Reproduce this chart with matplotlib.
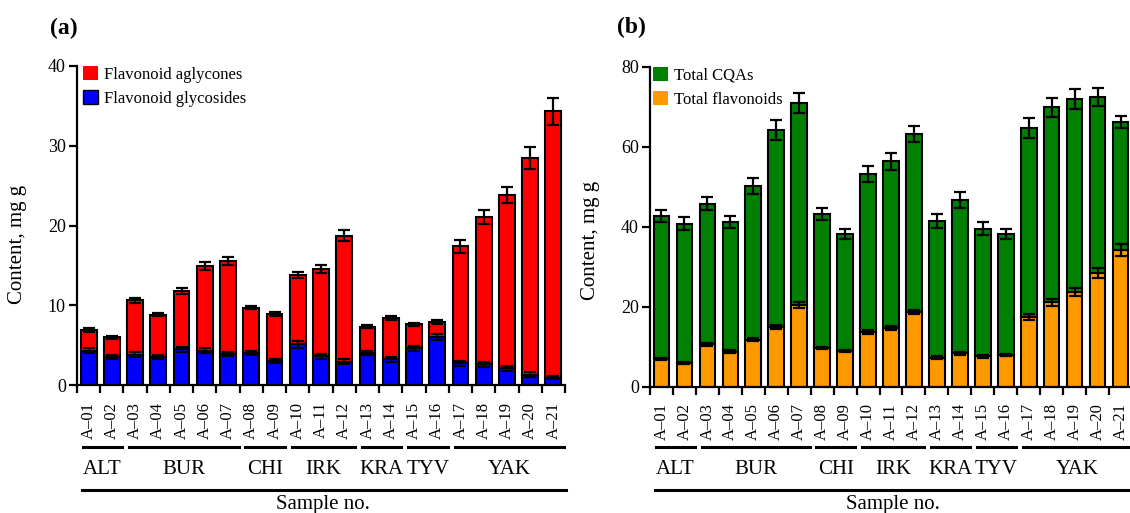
import numpy as np
import matplotlib
matplotlib.use("Agg")
import matplotlib.pyplot as plt
from matplotlib.patches import Patch
from matplotlib.transforms import blended_transform_factory

plt.rcParams['font.family'] = ['Liberation Serif', 'DejaVu Serif']

samples = ['A–%02d' % i for i in range(1, 22)]
groups = ['ALT', 'BUR', 'CHI', 'IRK', 'KRA', 'TYV', 'YAK']
group_start = [0, 2, 7, 9, 12, 14, 16]
group_end = [1, 6, 8, 11, 13, 15, 20]

# (a) flavonoids
glycosides = [4.3, 3.5, 3.8, 3.5, 4.5, 4.3, 3.9, 4.0, 3.0, 5.1, 3.6,
              2.9, 4.0, 3.2, 4.6, 6.0, 2.7, 2.6, 2.1, 1.3, 0.9]
glycosides_err = [0.3, 0.2, 0.3, 0.2, 0.3, 0.3, 0.3, 0.3, 0.2, 0.4, 0.3,
                  0.3, 0.3, 0.3, 0.3, 0.4, 0.3, 0.3, 0.3, 0.3, 0.2]
aglycones = [2.6, 2.5, 6.8, 5.3, 7.3, 10.6, 11.7, 5.7, 5.9, 8.7, 11.0,
             15.8, 3.3, 5.2, 3.0, 1.9, 14.7, 18.5, 21.7, 27.2, 33.4]
flav_total_err = [0.2, 0.2, 0.3, 0.2, 0.4, 0.5, 0.5, 0.2, 0.2, 0.4, 0.5,
                  0.7, 0.2, 0.3, 0.2, 0.2, 0.8, 0.9, 1.0, 1.4, 1.7]

# (b) flavonoids and CQAs
flavonoids = [6.9, 6.0, 10.6, 8.8, 11.8, 14.9, 20.5, 9.7, 8.9, 13.8, 14.6,
              18.7, 7.3, 8.4, 7.6, 7.9, 17.4, 21.1, 23.8, 28.5, 34.3]
flavonoids_err = [0.3, 0.3, 0.4, 0.3, 0.4, 0.5, 0.7, 0.3, 0.3, 0.5, 0.5,
                  0.6, 0.3, 0.4, 0.3, 0.3, 0.8, 0.9, 1.0, 1.2, 1.5]
cqas = [35.8, 34.8, 35.1, 32.5, 38.5, 49.4, 50.5, 33.6, 29.2, 39.4, 41.8,
        44.6, 34.2, 38.3, 31.9, 30.2, 47.2, 48.7, 48.2, 44.0, 31.8]
total_err = [1.5, 1.7, 1.6, 1.5, 2.0, 2.5, 2.5, 1.5, 1.3, 2.0, 2.1,
             2.0, 1.7, 1.9, 1.6, 1.3, 2.5, 2.3, 2.5, 2.3, 1.5]

W, H = 1130, 513
fig = plt.figure(figsize=(W / 100, H / 100), dpi=100)
ax1 = fig.add_axes([77 / W, 1 - 385 / H, 488 / W, 319 / H])
ax2 = fig.add_axes([650 / W, 1 - 386.7 / H, 482 / W, 320 / H])

x = np.arange(len(samples))
bw = 0.68
ekw = dict(fmt='none', ecolor='black', elinewidth=1.6, capsize=4.5, capthick=1.6, zorder=3)


def stacked(ax, low, high, low_err, top_err, c_low, c_high):
    low = np.array(low)
    top = low + np.array(high)
    ax.bar(x, low, bw, color=c_low, edgecolor='black', linewidth=1.5, zorder=2)
    ax.bar(x, high, bw, bottom=low, color=c_high, edgecolor='black', linewidth=1.5, zorder=2)
    ax.errorbar(x, low, yerr=low_err, **ekw)
    ax.errorbar(x, top, yerr=top_err, **ekw)


stacked(ax1, glycosides, aglycones, glycosides_err, flav_total_err, '#0000FF', '#FF0000')
stacked(ax2, flavonoids, cqas, flavonoids_err, total_err, '#FF9900', '#008000')

ax1.set_ylim(0, 40)
ax1.set_yticks([0, 10, 20, 30, 40])
ax2.set_ylim(0, 80)
ax2.set_yticks([0, 20, 40, 60, 80])

for ax in (ax1, ax2):
    ax.set_xlim(-0.5, 20.5)
    for s in ['top', 'right']:
        ax.spines[s].set_visible(False)
    for s in ['left', 'bottom']:
        ax.spines[s].set_linewidth(1.6)
    ax.set_xticks(x, samples, rotation=90, fontsize=12)
    ax.set_xticks(np.arange(-0.5, 21, 1), minor=True)
    ax.tick_params(axis='x', which='major', length=0, pad=12)
    ax.tick_params(axis='x', which='minor', length=6, width=1.6, direction='out')
    ax.tick_params(axis='y', length=6, width=1.6, labelsize=13, pad=2)
    ax.set_ylabel('Content, mg g', fontsize=15)

    tr = blended_transform_factory(ax.transData, fig.transFigure)
    for g, a, b in zip(groups, group_start, group_end):
        ax.plot([a - 0.25, b + 0.45], [1 - 446.5 / H] * 2, color='black', lw=2.2,
                transform=tr, clip_on=False)
        ax.text((a + b) / 2 + 0.1, 1 - 469 / H, g, transform=tr, ha='center', va='center',
                fontsize=15)
    ax.plot([-0.3, 20.55], [1 - 489.5 / H] * 2, color='black', lw=2.2, transform=tr, clip_on=False)
    ax.text(10.1, 1 - 508.5 / H, 'Sample no.', transform=tr, ha='center', va='baseline',
            fontsize=15)

ax1.yaxis.set_label_coords(-50 / 488, (385 - 244) / 319)
ax2.yaxis.set_label_coords(-50 / 482, (386.7 - 240) / 320)

leg_kw = dict(loc='upper left', frameon=False, fontsize=12, handlelength=0.9, handleheight=0.9,
              handletextpad=0.35, labelspacing=0.45, borderaxespad=0, borderpad=0)
ax1.legend(handles=[Patch(facecolor='#FF0000', edgecolor='none', label='Flavonoid aglycones'),
                    Patch(facecolor='#0000FF', edgecolor='black', label='Flavonoid glycosides')],
           bbox_to_anchor=(6 / 488, 1.0), **leg_kw)
ax2.legend(handles=[Patch(facecolor='#008000', edgecolor='none', label='Total CQAs'),
                    Patch(facecolor='#FF9900', edgecolor='none', label='Total flavonoids')],
           bbox_to_anchor=(3 / 482, 1.0), **leg_kw)

fig.text(64 / W, 1 - 28 / H, '(a)', fontsize=17, fontweight='bold', ha='center', va='center')
fig.text(631 / W, 1 - 27 / H, '(b)', fontsize=17, fontweight='bold', ha='center', va='center')

fig.savefig('out.png', dpi=100)
